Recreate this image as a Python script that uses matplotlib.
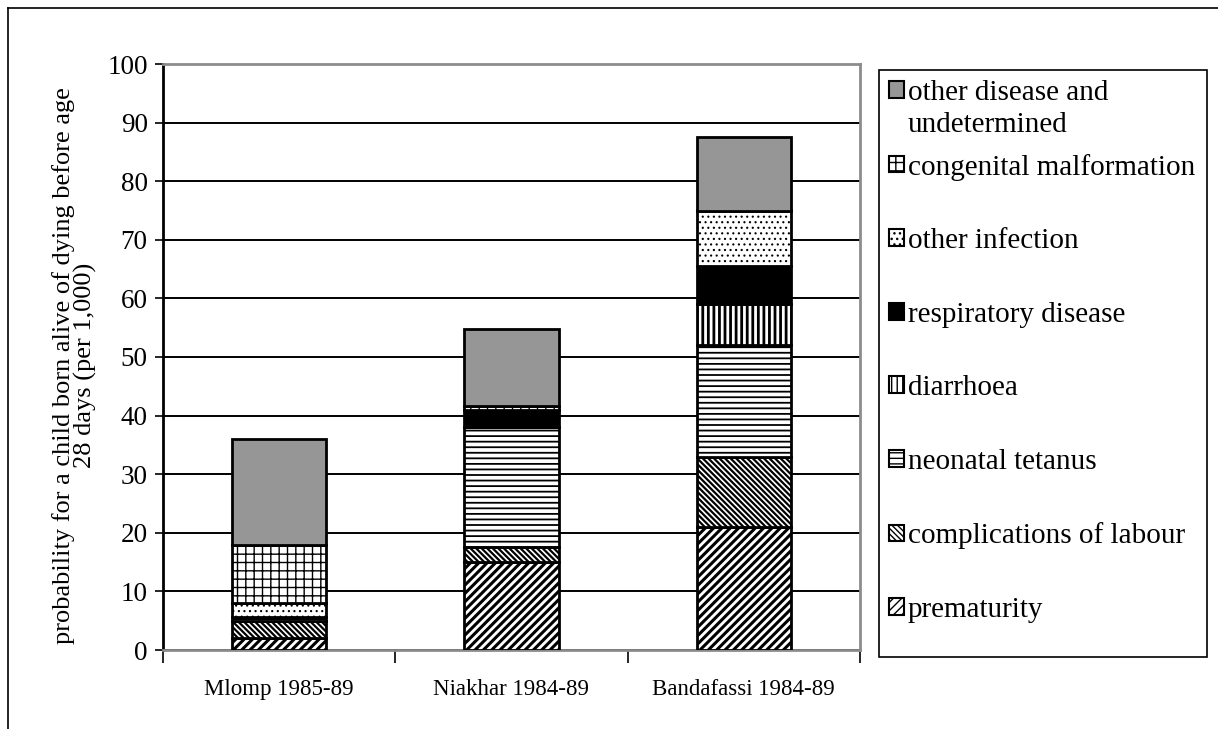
import numpy as np
import matplotlib
matplotlib.use("Agg")
import matplotlib.pyplot as plt
from matplotlib.patches import Patch, Rectangle

plt.rcParams['font.family'] = ['Liberation Serif', 'DejaVu Serif']

categories = ['Mlomp 1985-89', 'Niakhar 1984-89', 'Bandafassi 1984-89']

# causes of death, bottom to top (per 1,000)
prematurity = [2, 15, 21]
complications = [3, 2.5, 12]
tetanus = [0.7, 20.5, 19]
diarrhoea = [0, 0, 7]
respiratory = [0, 3, 6.5]
other_infection = [2.3, 0, 9.5]
congenital = [10, 0.7, 0]
other_disease = [18, 13, 12.5]

# name, values, fill, hatch, hatch line width
series = [
    ('prematurity', prematurity, 'white', '////', 2.2),
    ('complications of labour', complications, 'white', '\\\\\\\\\\\\', 1.6),
    ('neonatal tetanus', tetanus, 'white', '---', 1.3),
    ('diarrhoea', diarrhoea, 'white', '|||', 2.0),
    ('respiratory disease', respiratory, 'black', None, 1.0),
    ('other infection', other_infection, 'white', '...', 0.8),
    ('congenital malformation', congenital, 'white', '++', 1.0),
    ('other disease and', other_disease, '#969696', None, 1.0),
]

fig = plt.figure(figsize=(12.18, 7.29), dpi=100)
ax = fig.add_axes([163 / 1218, 79 / 729, 697 / 1218, 586 / 729])

x = np.arange(len(categories))
bottom = np.zeros(len(categories))
handles = []
for name, vals, col, hatch, hlw in series:
    vals = np.array(vals, dtype=float)
    with plt.rc_context({'hatch.linewidth': hlw}):
        bars = ax.bar(x, vals, 0.405, bottom=bottom, color=col, hatch=hatch,
                      edgecolor='black', linewidth=2, zorder=3)
        h = Patch(facecolor=col, hatch=hatch, edgecolor='black',
                  linewidth=1.5, label=name)
    for b in list(bars) + [h]:
        if hasattr(b, 'set_hatch_linewidth'):
            b.set_hatch_linewidth(hlw)
    handles.append(h)
    bottom += vals

ax.set_xlim(-0.5, 2.5)
ax.set_ylim(0, 100)
ax.set_yticks(np.arange(0, 101, 10))
ax.grid(axis='y', color='black', linewidth=1.4, zorder=0)
ax.tick_params(axis='y', labelsize=19.5, length=6, width=1.2, direction='out', pad=5)
ax.set_xticks(x)
ax.set_xticklabels(categories, fontsize=16.5)
ax.tick_params(axis='x', length=0, pad=21)
ax.set_xticks([-0.5, 0.5, 1.5, 2.5], minor=True)
ax.tick_params(axis='x', which='minor', length=9, width=1.2, direction='out')

for s in ['top', 'right', 'bottom']:
    ax.spines[s].set_color('#8c8c8c')
    ax.spines[s].set_linewidth(2)
ax.spines['left'].set_linewidth(2)

ax.set_ylabel('probability for a child born alive of dying before age\n28 days (per 1,000)',
              fontsize=19, linespacing=0.9)
ax.yaxis.set_label_coords(-0.095, 0.485)

# legend box drawn separately so its size matches the reference
fig.add_artist(Rectangle((879 / 1218, 1 - 657 / 729), 328 / 1218, 587 / 729,
                         transform=fig.transFigure, facecolor='white',
                         edgecolor='black', linewidth=1.2, zorder=1))
leg = fig.legend(handles=handles[::-1], loc='upper left',
                 bbox_to_anchor=(889 / 1218, 1 - 80 / 729),
                 fontsize=21, frameon=False, borderaxespad=0, borderpad=0,
                 labelspacing=1.63, handlelength=0.5, handleheight=0.5,
                 handletextpad=0.15)
leg.set_zorder(2)

# second line of the first legend label, placed just under the first line
fig.canvas.draw()
first = leg.get_texts()[0]
bb = first.get_window_extent()
fig.text(bb.x0 / 1218, (bb.y0 - 6) / 729, 'undetermined', fontsize=21,
         ha='left', va='top', zorder=3)

# outer frame: top and left lines only
fig.add_artist(plt.Line2D([8 / 1218, 1], [1 - 8 / 729, 1 - 8 / 729],
                          color='black', linewidth=1.2))
fig.add_artist(plt.Line2D([8 / 1218, 8 / 1218], [0, 1 - 8 / 729],
                          color='black', linewidth=1.2))

fig.savefig('out.png', dpi=100)
